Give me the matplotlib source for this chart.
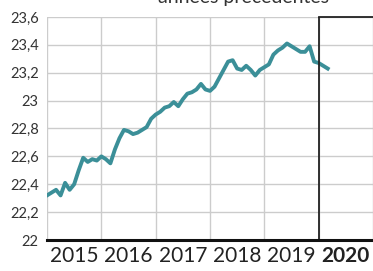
import matplotlib.pyplot as plt
import numpy as np

# Valeurs mensuelles, janvier 2015 -> mars 2020
mois = np.arange(63)
valeurs = [22.32, 22.34, 22.36, 22.32, 22.41, 22.36, 22.40, 22.50, 22.59, 22.56,
           22.58, 22.57, 22.60, 22.58, 22.55, 22.65, 22.73, 22.79, 22.78, 22.76,
           22.77, 22.79, 22.81, 22.87, 22.90, 22.92, 22.95, 22.96, 22.99, 22.96,
           23.01, 23.05, 23.06, 23.08, 23.12, 23.08, 23.07, 23.10, 23.16, 23.22,
           23.28, 23.29, 23.23, 23.22, 23.25, 23.22, 23.18, 23.22, 23.24, 23.26,
           23.33, 23.36, 23.38, 23.41, 23.39, 23.37, 23.35, 23.35, 23.39, 23.28,
           23.27, 23.25, 23.23]
annees = [2015, 2016, 2017, 2018, 2019, 2020]
y_ticks = [22, 22.2, 22.4, 22.6, 22.8, 23, 23.2, 23.4, 23.6]
y_labels = ['22', '22,2', '22,4', '22,6', '22,8', '23', '23,2', '23,4', '23,6']

plt.rcParams['font.family'] = ['Lato', 'DejaVu Sans']

fig = plt.figure(figsize=(3.73, 2.71), dpi=100)
ax = fig.add_axes([47 / 373, 1 - 240 / 271, 326 / 373, 223 / 271])

x = 2015 + mois / 12
ax.plot(x, valeurs, color='#3b8f98', linewidth=2.8, solid_joinstyle='round')

ax.set_xlim(2015, 2015 + 326 / 54.7)
ax.set_ylim(22, 23.6)
ax.set_yticks(y_ticks)
ax.set_yticklabels(y_labels, fontsize=10.5, color='#333333')
ax.set_xticks(annees + [2021])
ax.set_xticklabels([])
ax.tick_params(length=0, pad=6)
ax.grid(color='#cccccc', linewidth=1)

for s in ['top', 'right', 'left']:
    ax.spines[s].set_visible(False)
ax.spines['bottom'].set_linewidth(2.2)
ax.spines['bottom'].set_color('#111111')

# encadré 2020
ax.axvline(2020, color='#222222', linewidth=1.3)
ax.plot([2020, 2022], [23.6, 23.6], color='#222222', linewidth=1.3, clip_on=False)

for a in annees:
    ax.text(a + 0.5, -0.07, str(a), transform=ax.get_xaxis_transform(),
            ha='center', va='center', fontsize=15, color='#222222',
            fontweight='bold' if a == 2020 else 'normal')

fig.text(243 / 373, 1 - 2.5 / 271, 'années précédentes', ha='center',
         va='baseline', fontsize=14, color='#333333')

fig.savefig('out.png', dpi=100)
